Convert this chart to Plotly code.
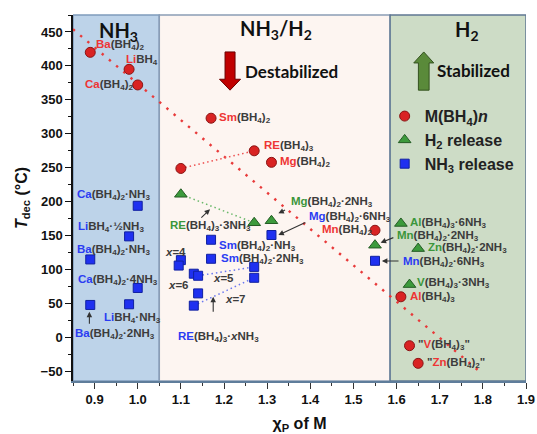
import plotly.graph_objects as go

# ---------------- data ----------------
# M(BH4)n  (red circles)
circ_x = [0.89, 0.98, 1.00, 1.17, 1.10, 1.27, 1.31, 1.55, 1.61, 1.63, 1.65]
circ_y = [420, 395, 372, 323, 249, 275, 258, 158, 60, -12, -38]
# H2 release (green triangles)
tri_x = [1.10, 1.27, 1.31, 1.55, 1.61, 1.65, 1.63]
tri_y = [211, 169, 172, 136, 168, 131, 78]
# NH3 release (blue squares)
sq_x = [1.00, 0.98, 0.89, 1.00, 0.89, 0.98, 1.31, 1.17, 1.17,
        1.10, 1.095, 1.13, 1.14, 1.14, 1.13, 1.27, 1.27, 1.55]
sq_y = [194, 149, 115, 73, 48, 49, 151, 144, 116,
        114, 106, 94, 91, 65, 47, 104, 88, 113]
# trend line (dotted red)
trend_x = [0.85, 1.80]
trend_y = [454, -54]
# RE(BH4)3 links
re_circ_x, re_circ_y = [1.10, 1.27], [249, 275]
re_tri_x, re_tri_y = [1.10, 1.27], [211, 169]
re_sq1_x, re_sq1_y = [1.14, 1.27], [91, 104]
re_sq2_x, re_sq2_y = [1.13, 1.27], [47, 88]

# region boundaries
regions_x = [0.85, 1.05, 1.585, 1.9]

RED = "#ee3535"
BLUE = "#2b3cf2"
GREEN = "#3b963b"
GRAY = "#3c3c3c"
FONT = "Liberation Sans, Arial, sans-serif"
TFONT = "Lato, Open Sans, sans-serif"

fig = go.Figure()

# region rectangles
fills = ["#bdd3e9", "#fdf5f1", "#cddcc6"]
edges = ["#7f9cbc", "#8a9db5", "#5f7793"]
for i in range(3):
    fig.add_shape(type="rect", xref="x", yref="paper",
                  x0=regions_x[i], x1=regions_x[i + 1], y0=0, y1=1,
                  fillcolor=fills[i], line=dict(color=edges[i], width=1.5),
                  layer="below")

# trend line
fig.add_trace(go.Scatter(x=trend_x, y=trend_y, mode="lines", showlegend=False,
                         line=dict(color="#e83a3a", width=2.4, dash="2.4px,7px"),
                         hoverinfo="skip"))
# link lines
for xs, ys, c in [(re_circ_x, re_circ_y, "#ee5050"), (re_tri_x, re_tri_y, "#6ab86a"),
                  (re_sq1_x, re_sq1_y, "#6a78f0"), (re_sq2_x, re_sq2_y, "#6a78f0")]:
    fig.add_trace(go.Scatter(x=xs, y=ys, mode="lines", showlegend=False,
                             line=dict(color=c, width=1.5, dash="1.5px,3px"),
                             hoverinfo="skip"))

fig.add_trace(go.Scatter(x=circ_x, y=circ_y, mode="markers",
                         name="M(BH<sub>4</sub>)<i>n</i>",
                         marker=dict(symbol="circle", size=10, color="#d92323",
                                     line=dict(color="#8a1414", width=1))))
fig.add_trace(go.Scatter(x=tri_x, y=tri_y, mode="markers", name="H<sub>2</sub> release",
                         marker=dict(symbol="triangle-up", size=11, color="#3c9a3c",
                                     line=dict(color="#245c24", width=1))))
fig.add_trace(go.Scatter(x=sq_x, y=sq_y, mode="markers", name="NH<sub>3</sub> release",
                         marker=dict(symbol="square", size=9, color="#1f30f0",
                                     line=dict(color="#1020a0", width=1))))


def lab(el, rest, color):
    return f"<span style='color:{color}'>{el}</span>{rest}"


B4 = "(BH<sub>4</sub>)"
labels = [
    (0.899, 430.8, lab("Ba", B4 + "<sub>2</sub>", RED)),
    (0.968, 408.7, lab("Li", "BH<sub>4</sub>", RED)),
    (0.874, 371.9, lab("Ca", B4 + "<sub>2</sub>", RED)),
    (1.184, 322.9, lab("Sm", B4 + "<sub>2</sub>", RED)),
    (1.287, 282.1, lab("RE", B4 + "<sub>3</sub>", RED)),
    (1.3245, 258.1, lab("Mg", B4 + "<sub>2</sub>", RED)),
    (1.351, 199.6, lab("Mg", B4 + "<sub>2</sub>·2NH<sub>3</sub>", GREEN)),
    (1.392, 178.0, lab("Mg", B4 + "<sub>2</sub>·6NH<sub>3</sub>", BLUE)),
    (1.4225, 158.4, lab("Mn", B4 + "<sub>2</sub>", RED)),
    (1.071, 163.8, lab("RE", B4 + "<sub>3</sub>·3NH<sub>3</sub>", GREEN)),
    (1.183, 135.2, lab("Sm", B4 + "<sub>2</sub>·NH<sub>3</sub>", BLUE)),
    (1.188, 115.6, lab("Sm", B4 + "<sub>2</sub>·2NH<sub>3</sub>", BLUE)),
    (1.059, 126.4, "<i>x</i>=4"),
    (1.171, 87.2, "<i>x</i>=5"),
    (1.066, 77.4, "<i>x</i>=6"),
    (1.198, 56.3, "<i>x</i>=7"),
    (1.089, 1.2, lab("RE", B4 + "<sub>3</sub>·<i>x</i>NH<sub>3</sub>", BLUE)),
    (0.855, 209.9, lab("Ca", B4 + "<sub>2</sub>·NH<sub>3</sub>", BLUE)),
    (0.857, 163.2, lab("Li", "BH<sub>4</sub>·½NH<sub>3</sub>", BLUE)),
    (0.855, 128.9, lab("Ba", B4 + "<sub>2</sub>·NH<sub>3</sub>", BLUE)),
    (0.857, 84.7, lab("Ca", B4 + "<sub>2</sub>·4NH<sub>3</sub>", BLUE)),
    (0.9165, 29.2, lab("Li", "BH<sub>4</sub>·NH<sub>3</sub>", BLUE)),
    (0.851, 5.2, lab("Ba", B4 + "<sub>2</sub>·2NH<sub>3</sub>", BLUE)),
    (1.627, 169.1, lab("Al", B4 + "<sub>3</sub>·6NH<sub>3</sub>", GREEN)),
    (1.596, 150.0, lab("Mn", B4 + "<sub>2</sub>·2NH<sub>3</sub>", GREEN)),
    (1.668, 132.3, lab("Zn", B4 + "<sub>2</sub>·2NH<sub>3</sub>", GREEN)),
    (1.610, 110.8, lab("Mn", B4 + "<sub>2</sub>·6NH<sub>3</sub>", BLUE)),
    (1.643, 79.9, lab("V", B4 + "<sub>3</sub>·3NH<sub>3</sub>", GREEN)),
    (1.627, 59.7, lab("Al", B4 + "<sub>3</sub>", RED)),
    (1.645, -11.0, "\"" + lab("V", B4 + "<sub>3</sub>\"", RED)),
    (1.666, -38.0, "\"" + lab("Zn", B4 + "<sub>2</sub>\"", RED)),
]
for x, y, t in labels:
    fig.add_annotation(x=x, y=y, text=t, showarrow=False, xanchor="left",
                       yanchor="middle",
                       font=dict(family=FONT, size=11.5, color=GRAY, weight="bold"))

# pointer arrows (head, tail)
arrows = [
    ((0.888, 38), (0.888, 18)),
    ((1.1676, 188.8), (1.144, 174.6)),
    ((1.326, 183), (1.345, 188.8)),
    ((1.326, 151), (1.392, 170.6)),
    ((1.563, 139.7), (1.596, 148)),
    ((1.566, 112.7), (1.608, 112.7)),
    ((1.175, 60.1), (1.175, 35.7)),
]
for (hx, hy), (tx, ty) in arrows:
    fig.add_annotation(x=hx, y=hy, ax=tx, ay=ty, axref="x", ayref="y",
                       text="", showarrow=True, arrowhead=2, arrowsize=1,
                       arrowwidth=1.1, arrowcolor="#333333")

# region titles
for x, y, t in [(0.955, 450.4, "NH<sub>3</sub>"), (1.320, 454, "NH<sub>3</sub>/H<sub>2</sub>"),
                (1.7626, 451.9, "H<sub>2</sub>")]:
    fig.add_annotation(x=x, y=y, text=t, showarrow=False, xanchor="center", yanchor="middle",
                       font=dict(family=TFONT, size=20, color="#111111", weight="bold"))
for x, y, t in [(1.243, 392.5, "Destabilized"), (1.689, 393, "Stabilized")]:
    fig.add_annotation(x=x, y=y, text=t, showarrow=False, xanchor="left", yanchor="middle",
                       font=dict(family=TFONT, size=17, color="#111111", weight="bold"))

# block arrows
cx = 1.214
fig.add_shape(type="path", xref="x", yref="y",
              path=f"M {cx-0.0116},420.6 L {cx+0.0116},420.6 L {cx+0.0116},380.4 L {cx+0.0244},380.4 "
                   f"L {cx},364.3 L {cx-0.0244},380.4 L {cx-0.0116},380.4 Z",
              fillcolor="#c00000", line=dict(color="#6a0000", width=1))
cx = 1.663
fig.add_shape(type="path", xref="x", yref="y",
              path=f"M {cx-0.0124},364.3 L {cx+0.0124},364.3 L {cx+0.0124},404.4 L {cx+0.0232},404.4 "
                   f"L {cx},420.6 L {cx-0.0232},404.4 L {cx-0.0124},404.4 Z",
              fillcolor="#5a8a3a", line=dict(color="#34521f", width=1))

fig.update_layout(
    width=537, height=434,
    margin=dict(l=73, r=11, t=15, b=53),
    paper_bgcolor="white", plot_bgcolor="white",
    font=dict(family=FONT, color="#111111"),
    showlegend=True,
    legend=dict(x=0.688, y=0.770, xanchor="left", yanchor="top",
                bgcolor="rgba(0,0,0,0)", borderwidth=0,
                font=dict(family=FONT, size=16, color="#222222", weight="bold"),
                tracegroupgap=0, itemclick=False),
    xaxis=dict(range=[0.85, 1.9], dtick=0.1, tick0=0.9, tickformat=".1f",
               showgrid=False, zeroline=False, showline=True, linecolor="#5f7d9b",
               linewidth=1.5, ticks="outside", ticklen=6, tickwidth=1.3, tickcolor="#333",
               minor=dict(dtick=0.05, tick0=0.9, ticks="outside", ticklen=3.5, tickcolor="#333", tickwidth=1.2),
               tickfont=dict(family=FONT, size=13, color="#111", weight="bold"),
               title=dict(text="χ<sub>P</sub> of M", standoff=13,
                          font=dict(family=FONT, size=16, color="#111", weight="bold")),
               automargin=False),
    yaxis=dict(range=[-64, 475], dtick=50, tick0=0,
               showgrid=False, zeroline=False, showline=True, linecolor="#111",
               linewidth=1.5, ticks="outside", ticklen=6, tickwidth=1.3, tickcolor="#111",
               minor=dict(dtick=25, ticks="outside", ticklen=3.5, tickcolor="#111", tickwidth=1.2),
               tickfont=dict(family=FONT, size=13, color="#111", weight="bold"),
               title=dict(text="<i>T</i><sub>dec</sub> (°C)", standoff=9,
                          font=dict(family=FONT, size=16, color="#111", weight="bold")),
               automargin=False),
)

fig.write_html("out.html")
